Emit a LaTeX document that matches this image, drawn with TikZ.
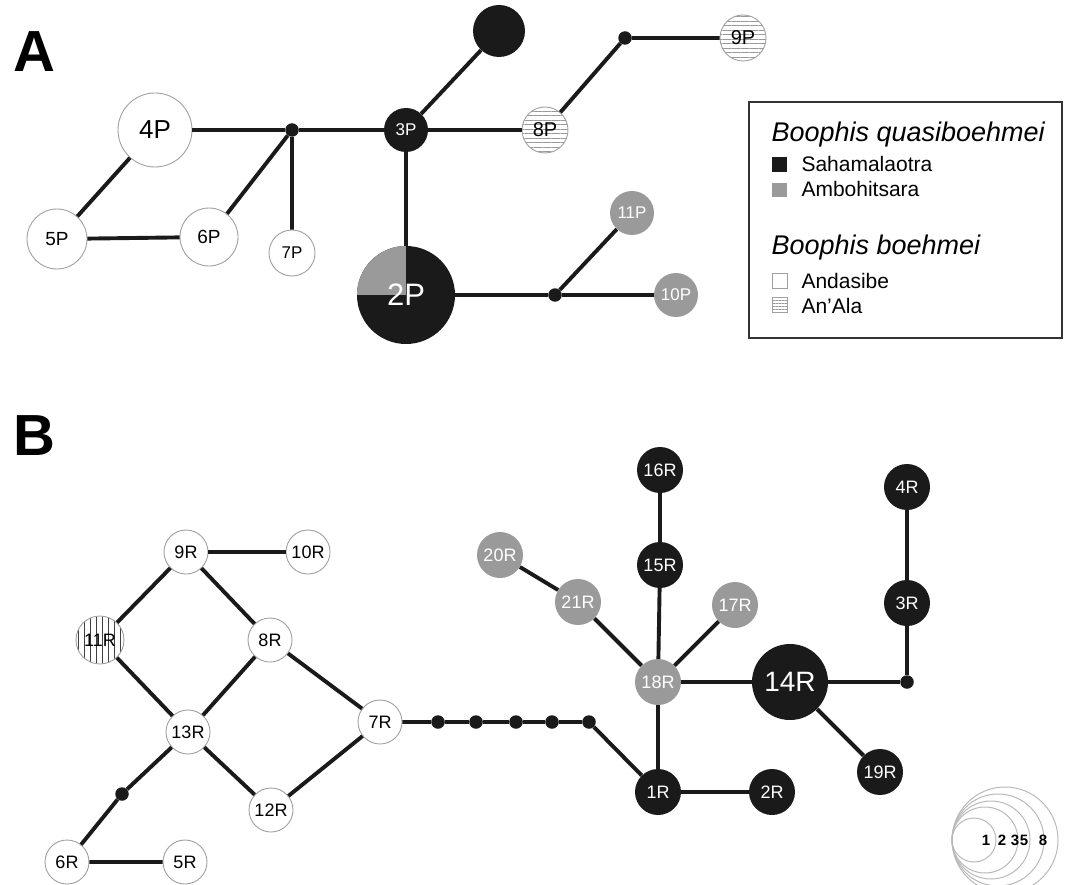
\documentclass[tikz,border=0pt]{standalone}
\usepackage{fontspec}
\setmainfont{Liberation Sans}
\usetikzlibrary{patterns.meta}
\definecolor{nblack}{HTML}{1A1A1A}
\definecolor{ngrey}{HTML}{9A9A9A}
\definecolor{bord}{HTML}{A0A0A0}
\newcommand{\fs}[1]{\fontsize{#1}{#1}\selectfont}
\tikzset{
  base/.style={circle, inner sep=0pt, minimum size=#1},
  wnode/.style={base=#1, draw=bord, line width=0.9pt, fill=white, text=black},
  bnode/.style={base=#1, fill=nblack, text=white},
  gnode/.style={base=#1, fill=ngrey, text=white},
  hnode/.style={base=#1, draw=bord, line width=0.9pt, pattern={Lines[angle=0,distance=4.5pt,line width=0.8pt]}, pattern color=gray!80, text=black},
  vnode/.style={base=#1, draw=bord, line width=0.9pt, pattern={Lines[angle=90,distance=6pt,line width=0.9pt]}, pattern color=black!75, text=black},
  hub/.style={circle, fill=nblack, inner sep=0pt, minimum size=13.5pt},
  edge/.style={line width=3.9pt, nblack},
  scalec/.style={draw=gray!55, line width=1pt},
  sclab/.style={font=\bfseries\fs{15}, inner sep=0pt},
}
\begin{document}
\begin{tikzpicture}[x=1pt,y=-1pt]
\useasboundingbox (0,0) rectangle (1065,885);
% panel labels
\node[anchor=base west, font=\bfseries\fs{58}] (labA) at (10,72) {A};
\node[anchor=base west, font=\bfseries\fs{58}] (labB) at (10,455) {B};

% ---------- Panel A ----------
\node[bnode=52pt] (top) at (499,31) {};
\node[bnode=44pt, font=\fs{17}] (3P) at (406,130) {3P};
\node[wnode=74pt, font=\fs{26}] (4P) at (155,130) {4P};
\node[hub] (hA1) at (292,130) {};
\node[wnode=60pt, font=\fs{19}] (5P) at (57,239) {5P};
\node[wnode=58pt, font=\fs{19}] (6P) at (209,237) {6P};
\node[wnode=46pt, font=\fs{17}] (7P) at (292,253) {7P};
\node[hnode=46pt, font=\fs{20}] (8P) at (545,130) {8P};
\node[hub] (hA2) at (625,38) {};
\node[hnode=46pt, font=\fs{20}] (9P) at (743,38) {9P};
\node[base=98pt] (2P) at (406,295) {};
\node[hub] (hA3) at (555,295) {};
\node[gnode=44pt, font=\fs{17}] (11P) at (632,213) {11P};
\node[gnode=44pt, font=\fs{17}] (10P) at (676,295) {10P};

\draw[edge] (4P) -- (hA1) -- (3P) -- (8P);
\draw[edge] (3P) -- (top);
\draw[edge] (3P) -- (2P);
\draw[edge] (8P) -- (hA2) -- (9P);
\draw[edge] (4P) -- (5P) -- (6P) -- (hA1) -- (7P);
\draw[edge] (2P) -- (hA3) -- (11P);
\draw[edge] (hA3) -- (10P);

% pie 2P
\fill[nblack] (2P.center) circle[radius=49];
\begin{scope}
  \clip (2P.center) circle[radius=49];
  \fill[ngrey] (2P.center) rectangle (350,240);
\end{scope}
\node[text=white, font=\fs{31}] (2Pl) at (2P.center) {2P};

% legend
\draw[line width=1.2pt, black!80] (749,102) rectangle (1062,338);
\node[anchor=base west, font=\itshape\fs{27}] (lt1) at (768,142) {Boophis quasiboehmei};
\fill[nblack] (772,157) rectangle (787,172);
\node[anchor=base west, font=\fs{21}] (l1) at (798,172) {Sahamalaotra};
\fill[ngrey] (772,183) rectangle (787,197);
\node[anchor=base west, font=\fs{21}] (l2) at (798,197) {Ambohitsara};
\node[anchor=base west, font=\itshape\fs{27}] (lt2) at (768,255) {Boophis boehmei};
\draw[bord, line width=0.9pt, fill=white] (772,273) rectangle (787,288);
\node[anchor=base west, font=\fs{21}] (l3) at (798,288) {Andasibe};
\draw[bord, line width=0.9pt, pattern={Lines[angle=0,distance=3pt,line width=0.7pt]}, pattern color=gray!80] (772,297) rectangle (787,312);
\node[anchor=base west, font=\fs{21}] (l4) at (798,313) {An'Ala};

% ---------- Panel B ----------
\node[bnode=46pt, font=\fs{18}] (16R) at (660,470) {16R};
\node[bnode=46pt, font=\fs{18}] (4R) at (907,487) {4R};
\node[gnode=46pt, font=\fs{18}] (20R) at (500,555) {20R};
\node[bnode=46pt, font=\fs{18}] (15R) at (660,565) {15R};
\node[wnode=44pt, font=\fs{18}] (9R) at (186,552) {9R};
\node[wnode=44pt, font=\fs{18}] (10R) at (308,552) {10R};
\node[gnode=46pt, font=\fs{18}] (21R) at (578,602) {21R};
\node[gnode=46pt, font=\fs{18}] (17R) at (735,605) {17R};
\node[bnode=46pt, font=\fs{18}] (3R) at (907,603) {3R};
\node[vnode=48pt, font=\fs{18}] (11R) at (100,640) {11R};
\node[wnode=44pt, font=\fs{18}] (8R) at (270,640) {8R};
\node[gnode=46pt, font=\fs{18}] (18R) at (658,682) {18R};
\node[bnode=76pt, font=\fs{28}] (14R) at (790,682) {14R};
\node[hub] (hB1) at (907,682) {};
\node[wnode=44pt, font=\fs{18}] (13R) at (188,732) {13R};
\node[wnode=44pt, font=\fs{18}] (7R) at (380,722) {7R};
\node[hub] (c1) at (438,722) {};
\node[hub] (c2) at (476,722) {};
\node[hub] (c3) at (516,722) {};
\node[hub] (c4) at (552,722) {};
\node[hub] (c5) at (589,722) {};
\node[wnode=44pt, font=\fs{18}] (12R) at (271,810) {12R};
\node[bnode=46pt, font=\fs{18}] (1R) at (658,792) {1R};
\node[bnode=46pt, font=\fs{18}] (2R) at (772,792) {2R};
\node[bnode=46pt, font=\fs{18}] (19R) at (880,772) {19R};
\node[hub] (hB2) at (122,794) {};
\node[wnode=44pt, font=\fs{18}] (6R) at (67,862) {6R};
\node[wnode=44pt, font=\fs{18}] (5R) at (185,862) {5R};

\draw[edge] (16R) -- (15R) -- (18R) -- (1R) -- (2R);
\draw[edge] (20R) -- (21R) -- (18R) -- (17R);
\draw[edge] (18R) -- (14R) -- (hB1) -- (3R) -- (4R);
\draw[edge] (14R) -- (19R);
\draw[edge] (9R) -- (10R);
\draw[edge] (9R) -- (11R) -- (13R) -- (8R) -- (9R);
\draw[edge] (8R) -- (7R) -- (12R) -- (13R);
\draw[edge] (7R) -- (c1) -- (c2) -- (c3) -- (c4) -- (c5) -- (1R);
\draw[edge] (13R) -- (hB2) -- (6R) -- (5R);

% size scale
\coordinate (sc) at (952,840);
\draw[scalec] ([xshift=53pt]sc) circle[radius=53];
\draw[scalec] ([xshift=46pt]sc) circle[radius=46];
\draw[scalec] ([xshift=39pt]sc) circle[radius=39];
\draw[scalec] ([xshift=33pt]sc) circle[radius=33];
\draw[scalec] ([xshift=22pt]sc) circle[radius=22];
\node[sclab] (s1) at (986,840) {1};
\node[sclab] (s2) at (1002,840) {2};
\node[sclab] (s3) at (1015,840) {3};
\node[sclab] (s5) at (1024,840) {5};
\node[sclab] (s8) at (1043,840) {8};
\end{tikzpicture}
\end{document}
